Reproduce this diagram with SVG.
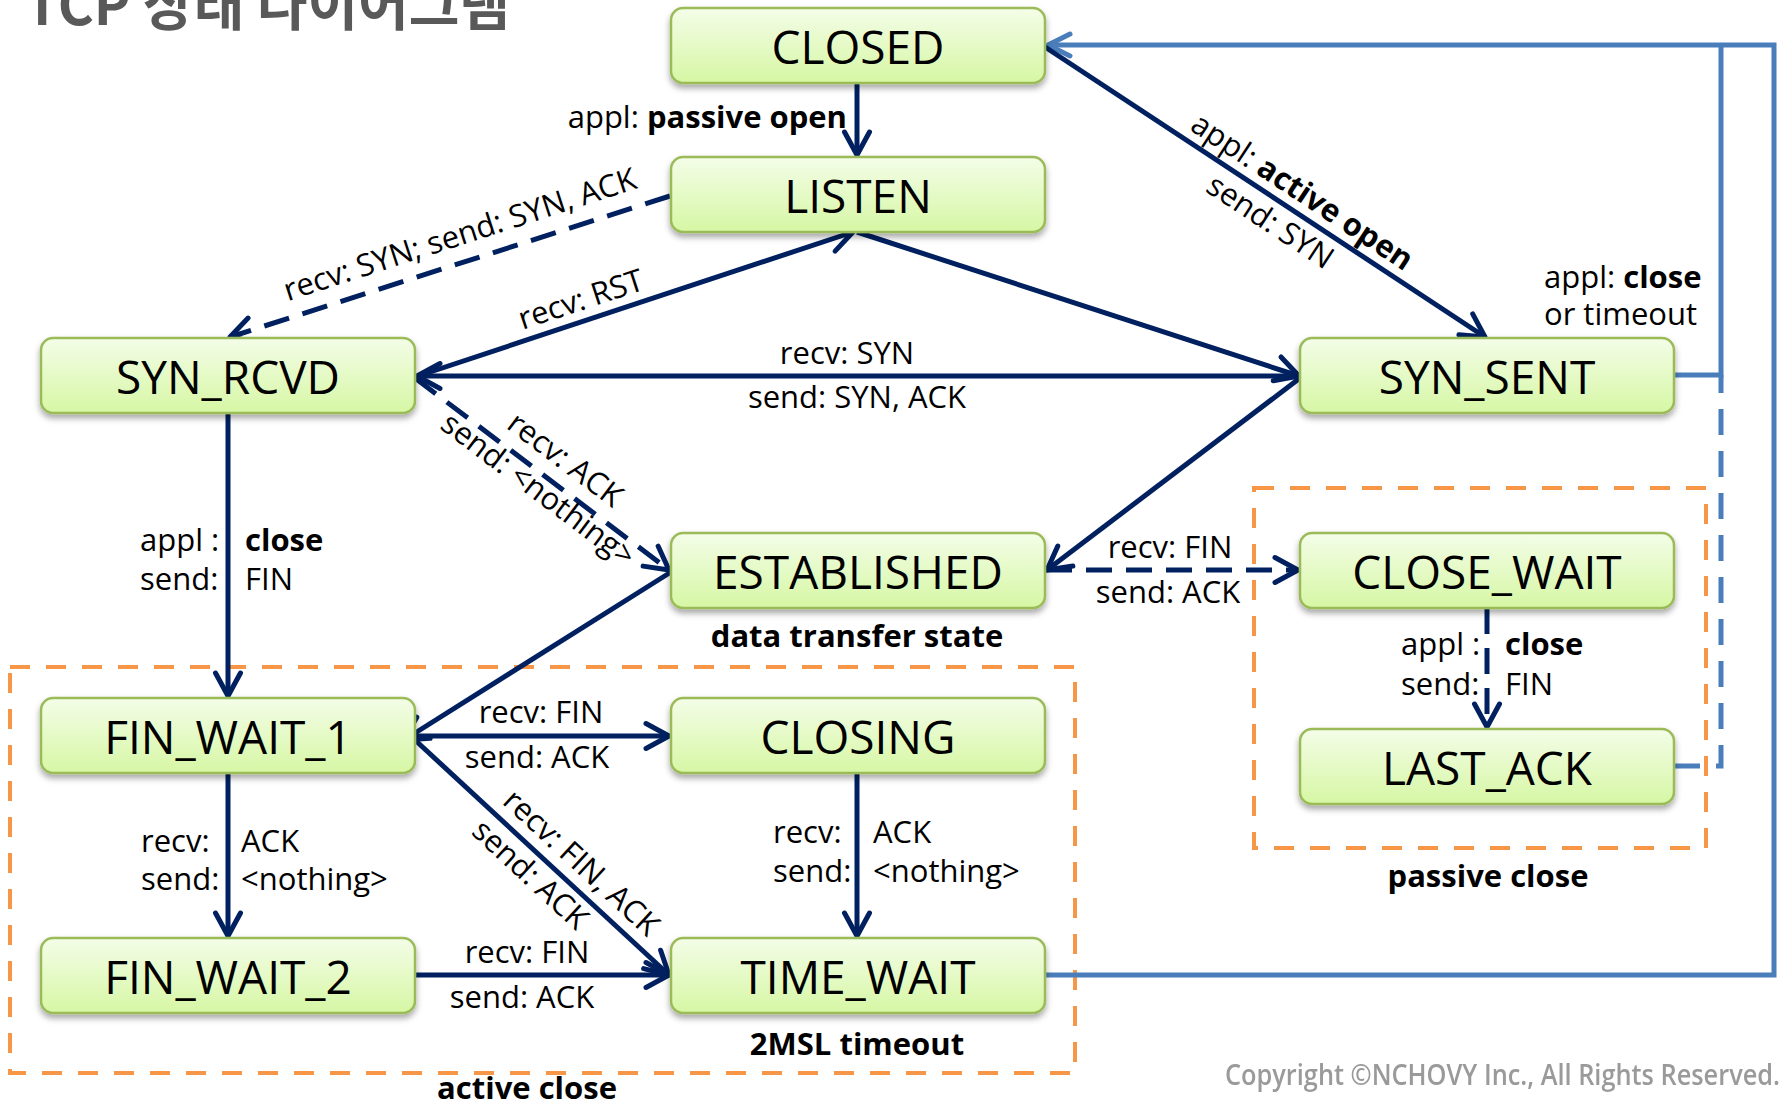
<svg xmlns="http://www.w3.org/2000/svg" width="1783" height="1105" viewBox="0 0 1783 1105">
  <defs>
    <linearGradient id="nodeFill" x1="0" y1="0" x2="0" y2="1">
      <stop offset="0" stop-color="#F4FDE8"/>
      <stop offset="1" stop-color="#D6F7A4"/>
    </linearGradient>
    <filter id="shadow" x="-10%" y="-20%" width="120%" height="160%">
      <feDropShadow dx="0" dy="4" stdDeviation="3" flood-color="#000" flood-opacity="0.35"/>
    </filter>
    <filter id="soft" x="-5%" y="-20%" width="110%" height="140%">
      <feGaussianBlur stdDeviation="0.6"/>
    </filter>
    <marker id="arrowNavy" viewBox="-30 -16 34 32" refX="0" refY="0" markerWidth="34" markerHeight="32" markerUnits="userSpaceOnUse" orient="auto">
      <path d="M-23,-12.5 L0,0 L-23,12.5" fill="none" stroke="#002060" stroke-width="5" stroke-linecap="round" stroke-linejoin="round"/>
    </marker>
    <marker id="arrowBlue" viewBox="-30 -16 34 32" refX="0" refY="0" markerWidth="34" markerHeight="32" markerUnits="userSpaceOnUse" orient="auto">
      <path d="M-22,-11 L0,0 L-22,11" fill="none" stroke="#4A7EBB" stroke-width="5" stroke-linecap="round" stroke-linejoin="round"/>
    </marker>
  </defs>
  <style>
    .node rect { fill: url(#nodeFill); stroke: #9BBB59; stroke-width: 2.5; filter: url(#shadow); }
    .node text { font-family: "Open Sans", "Noto Sans", sans-serif; font-size: 46px; fill: #000; text-anchor: middle; }
    .edge { fill: none; stroke: #002060; stroke-width: 5; marker-end: url(#arrowNavy); }
    .dash { stroke-dasharray: 26 14; }
    .loop { fill: none; stroke: #4A7EBB; stroke-width: 5; }
    .loopdash { stroke-dasharray: 26 16; }
    .zone { fill: none; stroke: #F79646; stroke-width: 4; stroke-dasharray: 20 16; }
    .lbl { font-family: "Open Sans", "Noto Sans", sans-serif; font-size: 31px; fill: #000; }
    .mid { text-anchor: middle; }
    .b { font-weight: 700; }
    .title { font-family: "Noto Sans CJK KR", "Open Sans", sans-serif; font-size: 56px; font-weight: 700; fill: #595959; }
    .copy { font-family: "Open Sans", "Noto Sans", sans-serif; font-size: 28px; font-weight: 600; fill: #9A9A9A; }
  </style>

  <!-- page title (partly above the top edge) -->
  <text class="title" x="25" y="25" textLength="485" lengthAdjust="spacingAndGlyphs">TCP 상태 다이어그램</text>

  <!-- grouping frames -->
  <g id="zones">
    <rect class="zone" x="10" y="667" width="1065" height="406"/>
    <rect class="zone" x="1254" y="488" width="452" height="360"/>
  </g>

  <!-- return paths to CLOSED -->
  <g id="return-lines">
    <path class="loop" d="M1045,975 L1774,975 L1774,45 L1048,45" marker-end="url(#arrowBlue)"/>
    <path class="loop" d="M1674,375 L1721,375 L1721,45"/>
    <path class="loop loopdash" d="M1674,766 L1721,766 L1721,375"/>
  </g>

  <!-- state transitions -->
  <g id="connectors">
    <path class="edge" d="M857,83 L857,155"/>
    <path class="edge" d="M1045,47 L1485,337"/>
    <path class="edge dash" d="M670,196 L230,337"/>
    <path class="edge" d="M415,377 L853,232"/>
    <path class="edge" d="M857,232 L1299,376"/>
    <path class="edge" d="M1300,376 L417,376"/>
    <path class="edge dash" d="M415,378 L669,570"/>
    <path class="edge" d="M1300,378 L1047,570"/>
    <path class="edge dash" d="M1046,570 L1298,570"/>
    <path class="edge dash" d="M1487,608 L1487,727"/>
    <path class="edge" d="M228,413 L228,696"/>
    <path class="edge" d="M671,572 L404,740"/>
    <path class="edge" d="M415,736 L669,736"/>
    <path class="edge" d="M415,740 L669,975"/>
    <path class="edge" d="M228,774 L228,936"/>
    <path class="edge" d="M857,774 L857,936"/>
    <path class="edge" d="M415,975 L669,975"/>
  </g>

  <!-- transition labels -->
  <g id="labels" class="lbl">
    <text x="847" y="128" text-anchor="end">appl: <tspan class="b">passive open</tspan></text>

    <text class="mid" transform="translate(1302,192) rotate(33.4)" y="10">appl: <tspan class="b">active open</tspan></text>
    <text class="mid" transform="translate(1270,222) rotate(33.4)" y="10">send: SYN</text>

    <text x="1544" y="288">appl: <tspan class="b">close</tspan></text>
    <text x="1544" y="325">or timeout</text>

    <text class="mid" transform="translate(460,235) rotate(-17.9)" y="10">recv: SYN; send: SYN, ACK</text>
    <text class="mid" transform="translate(581,300) rotate(-18.2)" y="10">recv: RST</text>

    <text class="mid" x="847" y="364">recv: SYN</text>
    <text class="mid" x="857" y="408">send: SYN, ACK</text>

    <text class="mid" transform="translate(565,460) rotate(37)" y="10">recv: ACK</text>
    <text class="mid" transform="translate(538,490) rotate(37)" y="10">send: &lt;nothing&gt;</text>

    <text class="mid" x="1170" y="558">recv: FIN</text>
    <text class="mid" x="1168" y="603">send: ACK</text>

    <text x="1401" y="655">appl :</text>
    <text x="1505" y="655" class="b">close</text>
    <text x="1401" y="695">send:</text>
    <text x="1505" y="695">FIN</text>

    <text x="140" y="551">appl :</text>
    <text x="245" y="551" class="b">close</text>
    <text x="140" y="590">send:</text>
    <text x="245" y="590">FIN</text>

    <text class="mid" x="541" y="723">recv: FIN</text>
    <text class="mid" x="537" y="768">send: ACK</text>

    <text class="mid" transform="translate(581,863) rotate(42.7)" y="10">recv: FIN, ACK</text>
    <text class="mid" transform="translate(530,875) rotate(42.7)" y="10">send: ACK</text>

    <text x="141" y="852">recv:</text>
    <text x="241" y="852">ACK</text>
    <text x="141" y="890">send:</text>
    <text x="241" y="890">&lt;nothing&gt;</text>

    <text x="773" y="843">recv:</text>
    <text x="873" y="843">ACK</text>
    <text x="773" y="882">send:</text>
    <text x="873" y="882">&lt;nothing&gt;</text>

    <text class="mid" x="527" y="963">recv: FIN</text>
    <text class="mid" x="522" y="1008">send: ACK</text>

    <text class="mid b" x="857" y="647">data transfer state</text>
    <text class="mid b" x="857" y="1055">2MSL timeout</text>
    <text class="mid b" x="1488" y="887">passive close</text>
    <text class="mid b" x="527" y="1099">active close</text>
  </g>

  <!-- states -->
  <g id="CLOSED" class="node"><rect x="671" y="8" width="374" height="75" rx="12"/><text x="858" y="64">CLOSED</text></g>
  <g id="LISTEN" class="node"><rect x="671" y="157" width="374" height="75" rx="12"/><text x="858" y="213">LISTEN</text></g>
  <g id="SYN_RCVD" class="node"><rect x="41" y="338" width="374" height="75" rx="12"/><text x="228" y="394">SYN_RCVD</text></g>
  <g id="SYN_SENT" class="node"><rect x="1300" y="338" width="374" height="75" rx="12"/><text x="1487" y="394">SYN_SENT</text></g>
  <g id="ESTABLISHED" class="node"><rect x="671" y="533" width="374" height="75" rx="12"/><text x="858" y="589">ESTABLISHED</text></g>
  <g id="CLOSE_WAIT" class="node"><rect x="1300" y="533" width="374" height="75" rx="12"/><text x="1487" y="589">CLOSE_WAIT</text></g>
  <g id="LAST_ACK" class="node"><rect x="1300" y="729" width="374" height="75" rx="12"/><text x="1487" y="785">LAST_ACK</text></g>
  <g id="FIN_WAIT_1" class="node"><rect x="41" y="698" width="374" height="75" rx="12"/><text x="228" y="754">FIN_WAIT_1</text></g>
  <g id="CLOSING" class="node"><rect x="671" y="698" width="374" height="75" rx="12"/><text x="858" y="754">CLOSING</text></g>
  <g id="FIN_WAIT_2" class="node"><rect x="41" y="938" width="374" height="75" rx="12"/><text x="228" y="994">FIN_WAIT_2</text></g>
  <g id="TIME_WAIT" class="node"><rect x="671" y="938" width="374" height="75" rx="12"/><text x="858" y="994">TIME_WAIT</text></g>

  <text class="copy" x="1225" y="1085" textLength="555" lengthAdjust="spacingAndGlyphs" filter="url(#soft)">Copyright ©NCHOVY Inc., All Rights Reserved.</text>
</svg>
